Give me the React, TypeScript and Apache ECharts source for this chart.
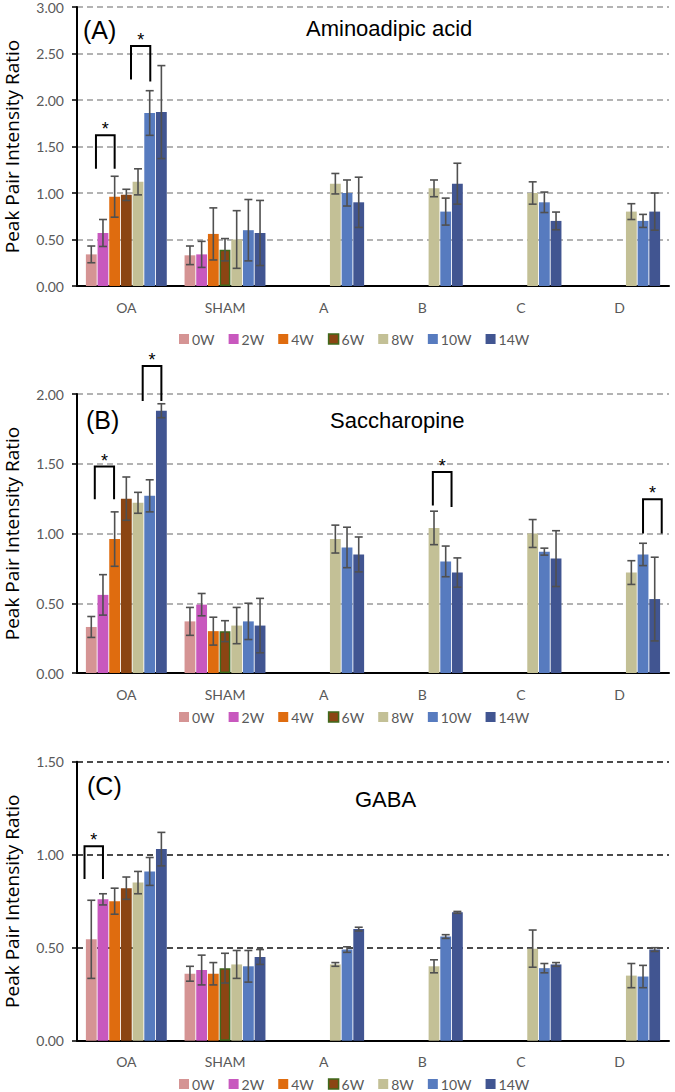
import React, { useEffect, useRef } from "react";
import * as echarts from "echarts";

const weeks = ["0W", "2W", "4W", "6W", "8W", "10W", "14W"];
const groups = ["OA", "SHAM", "A", "B", "C", "D"];
const colors = ["#D59494", "#C858BE", "#DF6C0F", "#8B4513", "#C3C096", "#577BBF", "#415591"];

// Rows = weeks, columns = groups
const aminoMeans = [
  [0.34, 0.33, null, null, null, null],
  [0.57, 0.34, null, null, null, null],
  [0.96, 0.56, null, null, null, null],
  [0.98, 0.39, null, null, null, null],
  [1.12, 0.5, 1.1, 1.05, 1.0, 0.8],
  [1.86, 0.6, 1.0, 0.8, 0.9, 0.7],
  [1.87, 0.57, 0.9, 1.1, 0.7, 0.8],
];
const aminoErrors = [
  [0.09, 0.1, null, null, null, null],
  [0.145, 0.14, null, null, null, null],
  [0.22, 0.28, null, null, null, null],
  [0.06, 0.12, null, null, null, null],
  [0.14, 0.31, 0.11, 0.09, 0.12, 0.085],
  [0.24, 0.33, 0.14, 0.145, 0.11, 0.07],
  [0.5, 0.35, 0.27, 0.22, 0.095, 0.2],
];
const saccMeans = [
  [0.33, 0.37, null, null, null, null],
  [0.56, 0.49, null, null, null, null],
  [0.96, 0.3, null, null, null, null],
  [1.25, 0.3, null, null, null, null],
  [1.22, 0.34, 0.96, 1.04, 1.0, 0.72],
  [1.27, 0.37, 0.9, 0.8, 0.87, 0.85],
  [1.88, 0.34, 0.85, 0.72, 0.82, 0.53],
];
const saccErrors = [
  [0.075, 0.1, null, null, null, null],
  [0.145, 0.08, null, null, null, null],
  [0.195, 0.1, null, null, null, null],
  [0.155, 0.075, null, null, null, null],
  [0.075, 0.13, 0.1, 0.12, 0.1, 0.085],
  [0.115, 0.13, 0.145, 0.11, 0.025, 0.08],
  [0.05, 0.195, 0.125, 0.105, 0.2, 0.3],
];
const gabaMeans = [
  [0.545, 0.36, null, null, null, null],
  [0.76, 0.38, null, null, null, null],
  [0.75, 0.36, null, null, null, null],
  [0.82, 0.39, null, null, null, null],
  [0.85, 0.41, 0.41, 0.4, 0.495, 0.35],
  [0.91, 0.4, 0.49, 0.56, 0.39, 0.345],
  [1.03, 0.45, 0.6, 0.69, 0.41, 0.49],
];
const gabaErrors = [
  [0.21, 0.04, null, null, null, null],
  [0.03, 0.08, null, null, null, null],
  [0.07, 0.06, null, null, null, null],
  [0.06, 0.08, null, null, null, null],
  [0.06, 0.075, 0.01, 0.035, 0.1, 0.065],
  [0.075, 0.085, 0.015, 0.01, 0.025, 0.06],
  [0.09, 0.04, 0.01, 0.005, 0.01, 0.01],
];

// Significance brackets: [group index, left slot, right slot, left foot, right foot, top]
const aminoBrackets = [
  [0, 0.4, 2.0, 1.26, 1.26, 1.62],
  [0, 3.4, 5.05, 2.22, 2.2, 2.58],
];
const saccBrackets = [
  [0, 0.3, 1.95, 1.245, 1.245, 1.48],
  [0, 4.4, 6.0, 1.95, 1.95, 2.2],
  [3, 3.9, 5.5, 1.2, 1.19, 1.44],
  [5, 5.0, 6.6, 1.0, 1.0, 1.245],
];
const gabaBrackets = [[0, -0.58, 1.0, 0.87, 0.87, 1.046]];

const yMaxes = [3, 2, 1.5];
const panelLabels = ["(A)", "(B)", "(C)"];
const panelTitles = ["Aminoadipic acid", "Saccharopine", "GABA"];

const CAT_GAP = 0.18; // category gap fraction
const BG = 0.08; // bar gap as fraction of bar width

const LABEL_FONT = "Lato, 'Noto Sans', sans-serif";

export default function App() {
  const ref = useRef<HTMLDivElement>(null);

  useEffect(() => {
    if (!ref.current) return;
    const chart = echarts.init(ref.current, null, { renderer: "svg" });

    const gridTops = [7, 394, 761.7];
    const gridH = 279;
    const legendCY = [339, 717, 1084];
    const titleCY = [30, 422, 801];
    const titleLeft = [306, 330, 355];
    const labelCY = [31, 421, 787];
    const labelLeft = [83, 86, 87];

    const panels = [
      { means: aminoMeans, errs: aminoErrors, brackets: aminoBrackets, gridColor: "#9a9a9a" },
      { means: saccMeans, errs: saccErrors, brackets: saccBrackets, gridColor: "#9a9a9a" },
      { means: gabaMeans, errs: gabaErrors, brackets: gabaBrackets, gridColor: "#111111" },
    ];

    const grid: any[] = [];
    const xAxis: any[] = [];
    const yAxis: any[] = [];
    const series: any[] = [];
    const legend: any[] = [];
    const title: any[] = [];

    const slotStep = (band: number) => {
      const w = (band * (1 - CAT_GAP)) / (7 + 6 * BG);
      return w * (1 + BG);
    };

    const errRender = (params: any, api: any) => {
      const cat = api.value(0);
      const slot = api.value(1);
      const lo = api.coord([cat, api.value(2)]);
      const hi = api.coord([cat, api.value(3)]);
      const band = api.size([1, 0])[0];
      const x = lo[0] + (slot - 3) * slotStep(band);
      const cap = 4;
      const style = { stroke: "#505050", lineWidth: 1.6 };
      return {
        type: "group",
        children: [
          { type: "line", shape: { x1: x, y1: lo[1], x2: x, y2: hi[1] }, style },
          { type: "line", shape: { x1: x - cap, y1: lo[1], x2: x + cap, y2: lo[1] }, style },
          { type: "line", shape: { x1: x - cap, y1: hi[1], x2: x + cap, y2: hi[1] }, style },
        ],
      };
    };

    const bracketRender = (params: any, api: any) => {
      const cat = api.value(0);
      const band = api.size([1, 0])[0];
      const step = slotStep(band);
      const c = api.coord([cat, 0]);
      const xl = c[0] + (api.value(1) - 3) * step;
      const xr = c[0] + (api.value(2) - 3) * step;
      const yl = api.coord([cat, api.value(3)])[1];
      const yr = api.coord([cat, api.value(4)])[1];
      const yt = api.coord([cat, api.value(5)])[1];
      return {
        type: "group",
        children: [
          {
            type: "polyline",
            shape: { points: [[xl, yl], [xl, yt], [xr, yt], [xr, yr]] },
            style: { stroke: "#000", lineWidth: 2, fill: "none" },
          },
          {
            type: "text",
            x: (xl + xr) / 2,
            y: yt - 6,
            style: {
              text: "*",
              fill: "#000",
              font: "18px 'Liberation Sans', Arial, sans-serif",
              align: "center",
              verticalAlign: "middle",
            },
          },
        ],
      };
    };

    panels.forEach((p, k) => {
      grid.push({
        left: 77,
        right: 6,
        top: gridTops[k],
        height: gridH,
        containLabel: false,
        outerBoundsMode: "none",
      });
      xAxis.push({
        type: "category",
        gridIndex: k,
        data: groups,
        axisLine: { lineStyle: { color: "#000", width: 2 } },
        axisTick: { show: false },
        axisLabel: { color: "#595959", fontSize: 14, fontFamily: LABEL_FONT, margin: 14 },
      });
      yAxis.push({
        type: "value",
        gridIndex: k,
        min: 0,
        max: yMaxes[k],
        interval: 0.5,
        name: "Peak Pair Intensity Ratio",
        nameLocation: "middle",
        nameGap: 56,
        nameTextStyle: { color: "#000", fontSize: 19, fontFamily: "'Open Sans', sans-serif" },
        axisLine: { show: true, lineStyle: { color: "#000", width: 2 } },
        axisTick: { show: true, length: 5, lineStyle: { color: "#000", width: 1.5 } },
        axisLabel: {
          color: "#595959",
          fontSize: 14,
          fontFamily: LABEL_FONT,
          margin: 13,
          formatter: (v: number) => v.toFixed(2),
        },
        splitLine: { show: true, lineStyle: { color: p.gridColor, type: [6, 4], width: 1.5 } },
      });
      weeks.forEach((w, i) => {
        series.push({
          type: "bar",
          name: w,
          xAxisIndex: k,
          yAxisIndex: k,
          barCategoryGap: (CAT_GAP * 100).toFixed(0) + "%",
          barGap: (BG * 100).toFixed(0) + "%",
          itemStyle: { color: colors[i] },
          data: p.means[i].map((v, j) => {
            if (w === "6W" && groups[j] === "SHAM") {
              return { value: v, itemStyle: { color: colors[i], borderColor: "#3f6a1c", borderWidth: 1.5 } };
            }
            return v;
          }),
          z: 2,
        });
      });
      const errData: any[] = [];
      p.means.forEach((row, i) =>
        row.forEach((m, j) => {
          if (m == null) return;
          const e = p.errs[i][j] as number;
          errData.push([j, i, m - e, m + e]);
        })
      );
      series.push({
        type: "custom",
        name: "err" + k,
        xAxisIndex: k,
        yAxisIndex: k,
        renderItem: errRender,
        encode: { x: 0, y: [2, 3] },
        data: errData,
        z: 4,
        silent: true,
      });
      series.push({
        type: "custom",
        name: "sig" + k,
        xAxisIndex: k,
        yAxisIndex: k,
        renderItem: bracketRender,
        encode: { x: 0, y: [3, 4, 5] },
        data: p.brackets,
        clip: false,
        z: 5,
        silent: true,
      });
      legend.push({
        top: legendCY[k] - 7,
        left: 179,
        padding: 0,
        itemWidth: 10,
        itemHeight: 10,
        itemGap: 14,
        textStyle: { color: "#595959", fontSize: 14, fontFamily: LABEL_FONT, padding: [0, 0, 0, -2] },
        data: weeks.map((w, i) =>
          w === "6W"
            ? { name: w, icon: "rect", itemStyle: { color: colors[i], borderColor: "#3f6a1c", borderWidth: 1.5 } }
            : { name: w, icon: "rect" }
        ),
      });
      title.push({
        text: panelLabels[k],
        left: labelLeft[k],
        top: labelCY[k] - 14,
        padding: 0,
        textStyle: { color: "#000", fontSize: 25, fontWeight: "normal", fontFamily: "'Liberation Sans', Arial, sans-serif" },
      });
      title.push({
        text: panelTitles[k],
        left: titleLeft[k],
        top: titleCY[k] - 13,
        padding: 0,
        textStyle: { color: "#000", fontSize: 22, fontWeight: "normal", fontFamily: "'Liberation Sans', Arial, sans-serif" },
      });
    });

    chart.setOption({
      animation: false,
      backgroundColor: "#ffffff",
      title,
      grid,
      xAxis,
      yAxis,
      legend,
      series,
    });

    return () => chart.dispose();
  }, []);

  return (
    <div
      ref={ref}
      style={{ position: "absolute", left: 0, top: 0, width: 675, height: 1092, background: "#fff" }}
    />
  );
}
